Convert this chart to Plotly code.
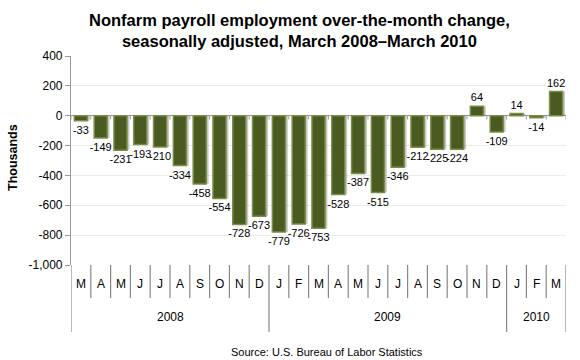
import plotly.graph_objects as go

months = ["M", "A", "M", "J", "J", "A", "S", "O", "N", "D",
          "J", "F", "M", "A", "M", "J", "J", "A", "S", "O", "N", "D",
          "J", "F", "M"]
years = ["2008"] * 10 + ["2009"] * 12 + ["2010"] * 3
changes = [-33, -149, -231, -193, -210, -334, -458, -554, -728, -673,
           -779, -726, -753, -528, -387, -515, -346, -212, -225, -224, 64, -109,
           14, -14, 162]
ytick_vals = [400, 200, 0, -200, -400, -600, -800, -1000]

FONT = "Liberation Sans, Arial"
PLOT_L, PLOT_W, PLOT_T, PLOT_H = 71, 495, 56, 209
idx = list(range(len(changes)))

fig = go.Figure()
# soft drop shadow
fig.add_trace(go.Bar(
    x=idx, y=changes, width=0.66, offset=-0.33 + 0.12,
    marker=dict(color="rgba(0,0,0,0.22)", line=dict(width=0)),
    hoverinfo="skip",
))
fig.add_trace(go.Bar(
    x=idx, y=changes,
    width=0.66, offset=-0.33,
    marker=dict(color="#4a5b22", line=dict(color="#7a8c46", width=1.5)),
    text=[str(v) for v in changes],
    textposition="outside",
    constraintext="none",
    textfont=dict(family=FONT, size=11, color="#000"),
    cliponaxis=False,
    hoverinfo="skip",
))

shapes = []
annotations = []
for i, m in enumerate(months):
    annotations.append(dict(x=i, y=0, xref="x", yref="paper", text=m, showarrow=False,
                            yanchor="middle", yshift=-19, font=dict(family=FONT, size=12, color="#000")))
for b in range(len(months) + 1):
    pos = b - 0.5
    is_year = b == 0 or b == len(months) or years[b] != years[b - 1]
    depth = -67 / PLOT_H if is_year else -33 / PLOT_H
    shapes.append(dict(type="line", xref="x", yref="paper", x0=pos, x1=pos, y0=0, y1=depth,
                       line=dict(color="#888", width=1.2)))
uniq = []
for y in years:
    if y not in uniq:
        uniq.append(y)
for y in uniq:
    ids = [i for i, yy in enumerate(years) if yy == y]
    annotations.append(dict(x=(ids[0] + ids[-1]) / 2, y=0, xref="x", yref="paper", text=y,
                            showarrow=False, yanchor="middle", yshift=-52,
                            font=dict(family=FONT, size=12, color="#000")))
for b in range(len(months) + 1):
    shapes.append(dict(type="line", xref="x", yref="y", x0=b - 0.5, x1=b - 0.5, y0=0, y1=-25,
                       line=dict(color="#999", width=1)))

annotations.append(dict(x=(327 - PLOT_L) / PLOT_W, y=-87 / PLOT_H, xref="paper", yref="paper",
                        xanchor="center", yanchor="middle",
                        text="Source: U.S. Bureau of Labor Statistics", showarrow=False,
                        font=dict(family=FONT, size=11, color="#000")))
annotations.append(dict(x=(299 - PLOT_L) / PLOT_W, y=1 + (PLOT_T - 30) / PLOT_H, xref="paper", yref="paper",
                        xanchor="center", yanchor="middle", align="center",
                        text="<b>Nonfarm payroll employment over-the-month change,<br>seasonally adjusted, March 2008–March 2010</b>",
                        showarrow=False,
                        font=dict(family=FONT, size=16.5, color="#000")))
annotations.append(dict(x=(13 - PLOT_L) / PLOT_W, y=(PLOT_T + PLOT_H - 158) / PLOT_H, xref="paper", yref="paper",
                        xanchor="center", yanchor="middle", textangle=-90,
                        text="<b>Thousands</b>", showarrow=False,
                        font=dict(family=FONT, size=12.5, color="#000")))

fig.update_layout(
    width=580, height=360,
    margin=dict(l=PLOT_L, r=580 - PLOT_L - PLOT_W, t=PLOT_T, b=360 - PLOT_T - PLOT_H),
    paper_bgcolor="white", plot_bgcolor="white",
    showlegend=False, barmode="overlay",
    xaxis=dict(range=[-0.5, len(changes) - 0.5], showticklabels=False, showgrid=False,
               zeroline=False, showline=False, ticks="", automargin=False),
    yaxis=dict(range=[-1000, 400], tickvals=ytick_vals, ticktext=[f"{v:,}" for v in ytick_vals],
               automargin=False,
               showgrid=True, gridcolor="#ebebeb", gridwidth=1,
               zeroline=True, zerolinecolor="#999", zerolinewidth=1.2,
               showline=True, linecolor="#999", linewidth=1.2,
               ticks="outside", ticklen=5, tickcolor="#999",
               tickfont=dict(family=FONT, size=12, color="#000")),
    shapes=shapes,
    annotations=annotations,
)

fig.write_html("out.html", config={"displayModeBar": False},
               post_script="document.body.style.margin='0';")
